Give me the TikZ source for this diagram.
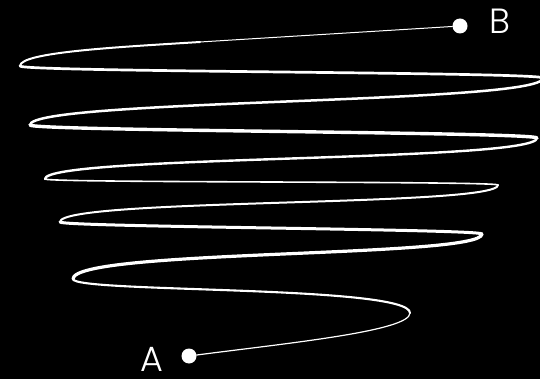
\documentclass[tikz,border=0pt]{standalone}
\usepackage{fontspec}
\newfontfamily\lblfont{Poppins Light}
\begin{document}
\begin{tikzpicture}[x=1pt,y=1pt,yscale=-1,xscale=1,
  endpt/.style={circle,fill={rgb, 255:red, 255; green, 255; blue, 255 },inner sep=0pt,minimum size=15pt},
  coil/.style={draw={rgb, 255:red, 255; green, 255; blue, 255 },line cap=round},
  lbl/.style={anchor=base,inner sep=0pt,text={rgb, 255:red, 255; green, 255; blue, 255 },font=\lblfont\fontsize{35}{40}\selectfont}]
\useasboundingbox (0,0) rectangle (540,379);
%Shape: Rectangle
\fill [fill={rgb, 255:red, 0; green, 0; blue, 0 }] (0,0) -- (540,0) -- (540,379) -- (0,379) -- cycle ;
\clip (0,0) rectangle (540,379);

% turning points
\coordinate (R1) at (410,313);
\coordinate (L1) at (73,279);
\coordinate (R2) at (482,234);
\coordinate (L2) at (60,222);
\coordinate (R3) at (498,185);
\coordinate (L3) at (45,179);
\coordinate (R4) at (537,138);
\coordinate (L4) at (30,125);
\coordinate (R5) at (543,78);
\coordinate (L5) at (20,66);
\coordinate (M5) at (200,42);

% End points
\node (A) [endpt] at (189,356) {};
\node (B) [endpt] at (460,26) {};

%Curve Lines
\draw [coil][line width=1.2] (A) .. controls (289,343) and +(0,18) .. (R1) ;
%Curve Lines
\draw [coil][line width=2.1] (R1) .. controls +(0,-28) and +(0,14) .. (L1) ;
%Curve Lines
\draw [coil][line width=3.2] (L1) .. controls +(0,-30) and +(0,24) .. (R2) ;
%Curve Lines
\draw [coil][line width=3] (R2) .. controls +(0,-5) and +(0,5) .. (L2) ;
%Curve Lines
\draw [coil][line width=2] (L2) .. controls +(0,-24) and +(0,22) .. (R3) ;
%Curve Lines
\draw [coil][line width=1.6] (R3) .. controls +(0,-4) and +(0,4) .. (L3) ;
%Curve Lines
\draw [coil][line width=2.4] (L3) .. controls +(0,-24) and +(0,24) .. (R4) ;
%Curve Lines
\draw [coil][line width=3.4] (R4) .. controls +(0,-6) and +(0,6) .. (L4) ;
%Curve Lines
\draw [coil][line width=2.5] (L4) .. controls +(0,-26) and +(0,26) .. (R5) ;
%Curve Lines
\draw [coil][line width=2.7] (R5) .. controls +(0,-6) and +(0,6) .. (L5) ;
%Curve Lines
\draw [coil][line width=2] (L5) .. controls (20,52) and (120,47) .. (M5) ;
\draw [coil][line width=1] (M5) .. controls (280,37) and (380,31) .. (B) ;

% Text Node
\node (labA) [lbl] at (152,371) {A};
% Text Node
\node (labB) [lbl] at (500,34) {B};
\end{tikzpicture}
\end{document}
